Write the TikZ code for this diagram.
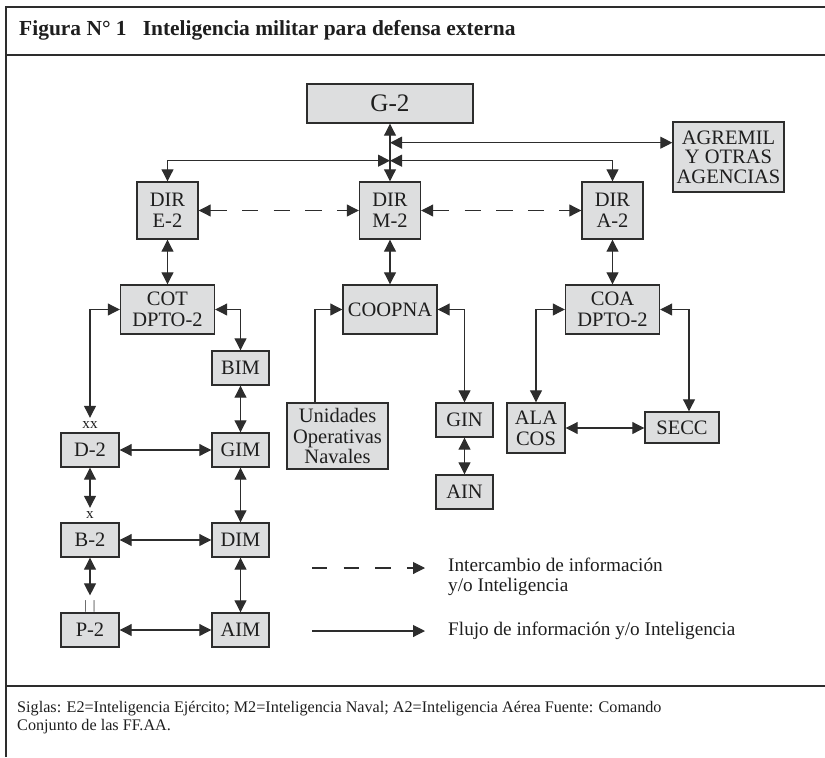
\documentclass[tikz,border=0pt]{standalone}
\usepackage{fontspec}
\setmainfont{Liberation Serif}
\usetikzlibrary{arrows.meta}
\definecolor{cajagris}{RGB}{221,222,223}
\definecolor{lineagris}{RGB}{45,45,45}
\definecolor{textogris}{RGB}{30,30,30}

\begin{document}
\begin{tikzpicture}[x=0.03cm, y=-0.03cm,
    caja/.style={draw=lineagris, line width=1.2pt, fill=cajagris, inner sep=0pt,
        align=center, text=textogris, font=\fontsize{17.5}{17.8}\selectfont},
    dir/.style={minimum width=1.83cm, minimum height=1.71cm},
    cmd/.style={minimum width=2.82cm, minimum height=1.47cm},
    chica/.style={minimum width=1.71cm, minimum height=1.02cm},
    punta/.tip={Triangle[length=3.6mm, width=3.6mm]},
    flecha/.style={draw=lineagris, line width=0.9pt, punta-punta},
    unica/.style={draw=lineagris, line width=0.9pt, -punta},
    interc/.style={flecha, dash pattern=on 14pt off 13pt},
    marca/.style={inner xsep=0pt, inner ysep=3pt, text=textogris, font=\fontsize{13}{13}\selectfont},
    texto/.style={inner sep=0pt, align=left, text=textogris, font=\fontsize{16.4}{17}\selectfont},
    marco/.style={draw=lineagris, line width=1.2pt}
]
    % Recuadro
    \useasboundingbox (0,0) rectangle (825,757);
    \draw[marco] (6,757) -- (6,7) -- (825,7);
    \draw[marco] (6,55) -- (825,55);
    \draw[marco] (6,686) -- (825,686);

    % Titulo
    \node[inner sep=0pt, anchor=base west, text=textogris, font=\fontsize{18.3}{19}\selectfont\bfseries]
        (titulo) at (19,35) {Figura N° 1\hspace{0.5em} Inteligencia militar para defensa externa};

    % Cajas
    \node[caja, minimum width=4.98cm, minimum height=1.17cm, font=\fontsize{21.5}{21.5}\selectfont] (g2) at (390,103.5) {G-2};
    \node[caja, minimum width=3.33cm, minimum height=2.1cm, font=\fontsize{17.5}{16.5}\selectfont] (agremil) at (728.5,157) {AGREMIL\\Y OTRAS\\AGENCIAS};
    \foreach \n/\t/\x in {e2/E-2/167.5, m2/M-2/390, a2/A-2/612.5}
        \node[caja, dir] (\n) at (\x,210.5) {DIR\\\t};
    \node[caja, cmd] (cot) at (167.5,309.5) {COT\\DPTO-2};
    \node[caja, cmd] (coopna) at (390,309.5) {COOPNA};
    \node[caja, cmd] (coa) at (612.5,309.5) {COA\\DPTO-2};
    \foreach \n/\t/\y in {bim/BIM/368, gim/GIM/450, dim/DIM/540, aim/AIM/630}
        \node[caja, chica] (\n) at (240.5,\y) {\t};
    \foreach \n/\t/\y in {d2/D-2/450, b2/B-2/540, p2/P-2/630}
        \node[caja, chica, minimum width=1.74cm] (\n) at (90,\y) {\t};
    \node[caja, minimum width=3.03cm, minimum height=1.98cm] (uon) at (337.5,436) {Unidades\\Operativas\\Navales};
    \node[caja, chica] (gin) at (464.5,420) {GIN};
    \node[caja, chica] (ain) at (464.5,492) {AIN};
    \node[caja, minimum width=1.74cm, minimum height=1.5cm] (ala) at (536,428) {ALA\\COS};
    \node[caja, minimum width=2.22cm, minimum height=0.93cm] (secc) at (682,427.5) {SECC};

    % Marcas de escalon
    \node[marca, anchor=south] (xx) at (d2.north) {xx};
    \node[marca, anchor=south] (x) at (b2.north) {x};
    \node[marca, inner ysep=0pt, anchor=south, font=\fontsize{11}{11}\selectfont] (ii) at (p2.north) {|\hspace{5pt}|};

    % Conexiones del G-2
    \coordinate (hubA) at (390,142.7);
    \coordinate (hubB) at (390,160.7);
    \draw[flecha] (g2) -- (m2);
    \draw[flecha] (hubA) -- (agremil.west |- hubA);
    \draw[flecha] (hubB) -| (e2.north);
    \draw[flecha] (hubB) -| (a2.north);
    \draw[interc] (e2) -- (m2);
    \draw[interc] (m2) -- (a2);
    \draw[flecha] (e2) -- (cot);
    \draw[flecha] (m2) -- (coopna);
    \draw[flecha] (a2) -- (coa);

    % Ejercito
    \draw[flecha] (cot.west) -| (xx.north);
    \draw[flecha] (cot.east) -| (bim.north);
    \draw[flecha] (bim) -- (gim);
    \draw[flecha] (gim) -- (dim);
    \draw[flecha] (dim) -- (aim);
    \draw[flecha] (d2) -- (gim);
    \draw[flecha] (b2) -- (dim);
    \draw[flecha] (p2) -- (aim);
    \draw[flecha] (d2.south) -- (x.north);
    \draw[flecha, shorten >=4pt] (b2.south) -- (ii.north);

    % Marina
    \draw[unica] ([xshift=-0.675cm]uon.north) |- (coopna.west);
    \draw[flecha] (coopna.east) -| (gin.north);
    \draw[flecha] (gin) -- (ain);

    % Aviacion
    \draw[flecha] (coa.west) -| (ala.north);
    \draw[flecha] (coa.east) -| ([xshift=0.21cm]secc.north);
    \draw[flecha] (ala.east) -- (ala.east -| secc.west);

    % Leyenda
    \coordinate (l1a) at (312,568);
    \coordinate (l1b) at (425,568);
    \coordinate (l2a) at (312,631);
    \coordinate (l2b) at (425,631);
    \draw[unica, dash pattern=on 13pt off 14pt] (l1a) -- (l1b);
    \draw[unica] (l2a) -- (l2b);
    \node[texto, anchor=west] (ley1) at (448,577) {Intercambio de información\\y/o Inteligencia};
    \node[texto, anchor=west] (ley2) at (448,631) {Flujo de información y/o Inteligencia};

    % Fuente
    \node[texto, anchor=west, font=\fontsize{13.8}{15.5}\selectfont] (pie) at (17,718)
        {Siglas: E2=Inteligencia Ejército; M2=Inteligencia Naval; A2=Inteligencia Aérea Fuente: Comando\\Conjunto de las FF.AA.};
\end{tikzpicture}
\end{document}
